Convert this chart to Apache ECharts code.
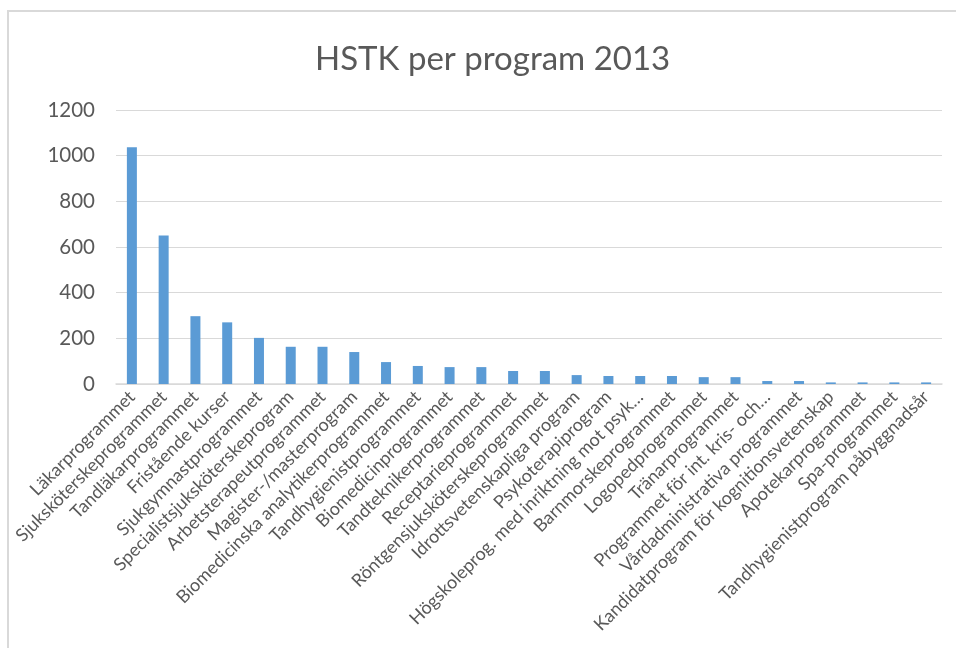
<!DOCTYPE html>
<html>
<head>
<meta charset="utf-8">
<script src="https://cdn.jsdelivr.net/npm/echarts@6/dist/echarts.min.js"></script>
<style>
html,body{margin:0;padding:0;background:#fff;}
#chart{width:956px;height:648px;}
</style>
</head>
<body>
<div id="chart"></div>
<script>
const categories = [
  "Läkarprogrammet",
  "Sjuksköterskeprogrammet",
  "Tandläkarprogrammet",
  "Fristående kurser",
  "Sjukgymnastprogrammet",
  "Specialistsjuksköterskeprogram",
  "Arbetsterapeutprogrammet",
  "Magister-/masterprogram",
  "Biomedicinska analytikerprogrammet",
  "Tandhygienistprogrammet",
  "Biomedicinprogrammet",
  "Tandteknikerprogrammet",
  "Receptarieprogrammet",
  "Röntgensjuksköterskeprogrammet",
  "Idrottsvetenskapliga program",
  "Psykoterapiprogram",
  "Högskoleprog. med inriktning mot psyk…",
  "Barnmorskeprogrammet",
  "Logopedprogrammet",
  "Tränarprogrammet",
  "Programmet för int. kris- och…",
  "Vårdadministrativa programmet",
  "Kandidatprogram för kognitionsvetenskap",
  "Apotekarprogrammet",
  "Spa-programmet",
  "Tandhygienistprogram påbyggnadsår"
];
const values = [1037, 650, 297, 270, 202, 163, 163, 140, 96, 79, 74, 74, 57, 57, 39, 35, 35, 35, 30, 30, 13, 13, 7, 7, 7, 7];
const yTicks = [0, 200, 400, 600, 800, 1000, 1200];

const chart = echarts.init(document.getElementById('chart'));
chart.setOption({
  animation: false,
  textStyle: { fontFamily: 'Lato' },
  graphic: [{
    type: 'rect',
    shape: { x: 8, y: 11, width: 1000, height: 700 },
    style: { fill: 'none', stroke: '#d9d9d9', lineWidth: 2 },
    silent: true
  }],
  title: {
    text: 'HSTK per program 2013',
    left: 310,
    top: 38,
    textStyle: { fontFamily: 'Lato', fontSize: 33, fontWeight: 'normal', color: '#595959' }
  },
  grid: { left: 116, right: 14, top: 110, bottom: 264, containLabel: false },
  xAxis: {
    type: 'category',
    data: categories,
    axisLine: { show: true, lineStyle: { color: '#d9d9d9', width: 1.5 } },
    axisTick: { show: false },
    axisLabel: {
      interval: 0,
      rotate: 45,
      fontFamily: 'Lato',
      fontSize: 18,
      color: '#595959',
      margin: 10
    }
  },
  yAxis: {
    type: 'value',
    min: yTicks[0],
    max: yTicks[yTicks.length - 1],
    interval: 200,
    axisLine: { show: false },
    axisTick: { show: false },
    splitLine: { lineStyle: { color: '#d9d9d9', width: 1 } },
    axisLabel: {
      fontFamily: 'Lato',
      fontSize: 20.5,
      color: '#595959',
      margin: 21,
      formatter: function (v) { return String(v); }
    }
  },
  series: [{
    type: 'bar',
    data: values,
    barWidth: 10,
    itemStyle: { color: '#5b9bd5' }
  }]
});
</script>
</body>
</html>
